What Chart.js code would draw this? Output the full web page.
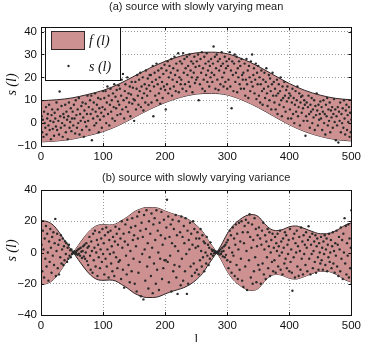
<!DOCTYPE html>
<html>
<head>
<meta charset="utf-8">
<script src="https://cdn.jsdelivr.net/npm/chart.js@4.4.0/dist/chart.umd.min.js"></script>
<style>
  html, body { margin: 0; padding: 0; background: #fff; }
  canvas { display: block; }
</style>
</head>
<body>
<canvas id="chartA" width="365" height="171"></canvas>
<canvas id="chartB" width="365" height="171"></canvas>
<script>
// band f(l), panel (a): slowly varying mean
var bandXA = [0,25,50,75,100,125,150,175,200,225,250,275,300,325,350,375,400,425,450,475,500];
var upperA = [9.8,10.2,11,12.5,14.3,17,20.5,24,27,29.3,30.7,31,30.3,28,24.8,21,17.3,14.3,12.2,10.8,10.2];
var lowerA = [-8.2,-7.8,-7,-5.5,-3.7,-1,2.5,6,9,11.3,12.7,13,12.3,10,6.8,3,-0.7,-3.7,-5.8,-7.2,-7.8];

// band f(l), panel (b): slowly varying variance (edges cross at the pinches)
var bandXB = [0,10,20,30,40,52,60,70,80,90,100,110,120,130,140,150,160,170,180,190,200,210,220,230,240,250,260,270,283,290,300,310,320,330,340,350,360,370,380,390,400,410,420,430,440,450,460,470,480,490,500];
var upperB = [20.5,19.8,17.4,12.5,6.5,0,-4.5,-10,-14.5,-17.2,-17.8,-17.6,-18.2,-20.5,-23,-26,-27.8,-28.8,-28.8,-28.2,-26.5,-25,-23.8,-22.5,-20.5,-17.5,-13.5,-7.5,0,4.5,12,17.5,21,23.5,24.3,23,18.5,15,14,14.8,16.5,17,16,14.5,13,12,12,13,15,17.5,19];
var lowerB = [-20.5,-19.8,-17.4,-12.5,-6.5,0,4.5,10,14.5,17.2,17.8,17.6,18.2,20.5,23,26,27.8,28.8,28.8,28.2,26.5,25,23.8,22.5,20.5,17.5,13.5,7.5,0,-4.5,-12,-17.5,-21,-23.5,-24.3,-23,-18.5,-15,-14,-14.8,-16.5,-17,-16,-14.5,-13,-12,-12,-13,-15,-17.5,-19];

// samples s(l), l = 1..500
var sampleA = [
  3,-4,1.5,-6,5,0,-2,7,-5,2,4,-1,8,-3,1,-7,3.5,6,-2.5,0.5,-5.5,4.5,2,-1.5,9,
  -3,6,1,-5,13.8,3,-2,7.5,0,-6,4,2.5,-1,8,-4,5,1.5,-7,3,9,-2,0.5,6.5,-3.5,2,
  5,-1,8,2,-4.5,10,3.5,-2,6,0,11,-5,4,1,7.5,-3,9,2.5,-6,5.5,0.5,8.5,-1.5,4,12,
  1,7,-3,10,4,12,-7.5,6,2,9,-1,13,5,0,8,3,11,-4,6.5,1.5,10.5,4.5,-2,7,14,
  3,11,6,14,0,9,16,4,12,-1,8,15,5,10,2,13,7,17,1,11.5,6.5,14.5,3.5,9.5,16.5,
  8,15,4,12,19,6,21.5,10,2,14,17,7,11,20,5,13,9,16,3,12.5,18,8.5,15.5,10.5,1,
  10,18,6,15,21,12,8,19,14,22,7,16,11,20,5.5,13,17,9,23,15,12,19.5,8,16.5,21,
  14,21,9,18,25,3,16,22,12,19,26,10,17,23,13,20,8.5,15,24,18,11,21.5,16,25.5,14.5,
  6,23,17,27,13,20,25,15,22,28,12,19,24,16,29,21,14,26,18,23,30.5,13.5,20,27,17,
  19,26,15,30.6,22,28,17,24,14,29,21,25,18,30,16,23,27,20,13.5,26,22,29,17.5,24.5,19,
  27,20,30,10,25,17,28,22,31,15,24,19,29,14,26,21,30.5,18,23,27,16,25,20,28,22,
  18,26,33.5,21,29,15,24,30,19,27,14.5,23,28,17,25,31,20,26,16,22,29,18,24,27,15,
  25,19,28,31,16,23,6.5,27,21,14,26,30,18,22,29,13.5,24,20,27,17,25,15,28,21,19,
  22,15,26,12,19,28,17,23,11,25,20,14,27,18,30,16,21,24,13,19,26,10.5,22,17,25,
  12,20,9,17,23,14,8,19,15,22,11,18,24,13,7.5,16,21,10,19.5,14,6,17,22,12,18,
  9,15,6,12,19,4,13,17,8,14,20,10,3,16,11,7,18,12,5,14.5,9.5,16,2,11,13,
  6,12,2,9,15,4,11,0,8,14,5,10,16,3,7,13,-1,9,11.5,4.5,12,6.5,1,10,8,
  -5.5,3,9,1,7,12,4,-2,8,5,11,0,6,2.5,10,-3,7.5,3.5,13,5.5,-1,8,1.5,4,9.5,
  2,7,-3,5,10,0,4,-5,8,3,11,-1,6,1,9,-4,5.5,2.5,7,-2,4,10.5,0.5,6,-7.5,
  3,-1,7,-8.5,5,1,9,-4,4,0,6.5,-2,10,2,-5,5.5,8,-3,3.5,0.5,7,-6,4.5,-4,1.5
];
var sampleB = [
  5,-12,14,2,-16,9,-4,17,-9,12,0,-18,7,-6,15,3,-13,10,-2,13,-8,6,21.5,-15,1,
  12,-10,5,-14,8,-3,11,-7,2,9,-8,4,-5,7,-1,6,-6,3,-4,5,-2,1.5,-3,2,-1,
  0.5,-0.5,0,0.8,-0.3,0.2,-1,1.2,-1.5,2,-0.8,2.5,-2,3,0.5,-3.5,1,4,-2.5,5,-4,0,6,-5.5,3,
  -8,4,10,-2,-11,7,1,-13,12,-5,3,14,-9,0,8,-15,5,-3,13,-10,2,9,-6,15,-1,
  6,-14,11,-4,16,-9,2,13,-16,8,-1,14,-7,4,-12,10,0,-15,7,16.5,-3,12,-10,5,-6,
  15,-5,9,-17,20,3,-11,12,-22.5,7,18,-2,-14,21,5,-8,13,-19,1,16,-12,22,8,-4,11,
  -20,17,4,-25,23,9,-13,26,-6,14,-28,19,-1,10,-30,24,2,-18,15,27,-9,6,-23,20,-3,
  12,-15,25,3,-26,18,-7,22,8,-20,27,-11,14,0,-24,19,-4,11,26,-17,5,-10,21,-5,9,
  -5,16,33.8,-6,23,-19,10,-2,18,-25,6,21,-12,15,-8,4,24,-16,11,-26.5,1,20,-9,13,-21,
  23,-4,10,-18,17,6,-12,22,-1,-26.5,14,-20,8,2,19,-9,12,-15,5,20,-7,15,-13,3,9,
  -11,13,4,-14,9,-5,15,1,-9,11,-3,7,-12,6,0,-7,10,-2,5,-8,3,-4,6.5,-1,2,
  1,-2,1.5,-0.5,0.8,0,-0.3,0.5,0,-0.6,0.4,1,-1.2,2,-1,0.5,3,-2.5,1,4,-3,5,-1.5,6.5,-5,
  8,-10,3,14,-6,11,-13,0,16,-2,9,-15,5,18,-8,12,-17,2,19,-11,7,-4,20,-18,13,
  -22,6,17,-9,21,1,-24,13,19,-5,24.5,10,-16,3,18,-20,8,-12,22,-3,15,-19,4,11,-8,
  16,-11,9,-20,5,14,-7,19,-14,2,11,-17,7,-3,15,-10,4,13,-15,0,8,-6,12,-12,3,
  -5,10,-13,6,1,12,-9,4,-2,14,-11,7,0,-14,9,3,-7,13,-4,11,-10,5,-1,8,-12,
  15,-6,2,-13,-24.5,9,-3,12,-16,6,0,14,-9,4,-15,10,1,-11,16,-4,7,-14,11,-1,5,
  -8,13,3,-12,8,16.8,-4,10,-14,5,-1,12,-10,1,7,-6,11,-13,4,9,-3,-11,6,0,-7,
  10,-5,3,-11,7,-1,11,-8,2,9,-12,5,-3,12,-6,0,8,-10,4,13,-7,1,-13,6,-2,
  14,-9,5,-15,10,2,-12,16,-4,8,-17,12,0,22,-7,17,-14,6,-2,18,-16,9,-10,3,27
];

var xTicks = [0,100,200,300,400,500];
var yTicksA = [-10,0,10,20,30,40];
var yTicksB = [-40,-20,0,20,40];

var bandFill = 'rgb(205,145,145)';
var edgeColor = '#332626';
var dotColor = '#2a2a2a';
var tickFont = { family: '"Liberation Sans", Arial, sans-serif', size: 11.5 };

function fmt(v) {
  return v < 0 ? '\u2212' + Math.abs(v) : '' + v;
}

function pts(xs, ys) {
  return ys.map(function(v, i) { return { x: xs[i], y: v }; });
}

function sampleIdx(arr) {
  return arr.map(function(v, i) { return i + 1; });
}

// box, inner ticks, titles, axis labels and legend in MATLAB style
var decor = {
  id: 'decor',
  afterDatasetsDraw: function(chart, args, opts) {
    var ctx = chart.ctx, a = chart.chartArea;
    var xs = chart.scales.x, ys = chart.scales.y;
    ctx.save();
    ctx.strokeStyle = '#111';
    ctx.lineWidth = 1;
    ctx.beginPath();
    xs.ticks.forEach(function(t) {
      var px = Math.round(xs.getPixelForValue(t.value)) + 0.5;
      ctx.moveTo(px, a.bottom); ctx.lineTo(px, a.bottom - 3);
      ctx.moveTo(px, a.top); ctx.lineTo(px, a.top + 3);
    });
    ys.ticks.forEach(function(t) {
      var py = Math.round(ys.getPixelForValue(t.value)) + 0.5;
      ctx.moveTo(a.left, py); ctx.lineTo(a.left + 3, py);
      ctx.moveTo(a.right, py); ctx.lineTo(a.right - 3, py);
    });
    ctx.stroke();
    ctx.strokeRect(Math.round(a.left) + 0.5, Math.round(a.top) + 0.5,
      Math.round(a.right - a.left), Math.round(a.bottom - a.top));

    ctx.fillStyle = '#222';
    ctx.font = '11px "Liberation Sans", Arial, sans-serif';
    ctx.textAlign = 'center';
    ctx.textBaseline = 'middle';
    ctx.fillText(opts.title, (a.left + a.right) / 2, 7);

    if (opts.xlabel) {
      ctx.fillStyle = '#111';
      ctx.font = '13px "Liberation Serif", serif';
      ctx.textBaseline = 'alphabetic';
      ctx.fillText(opts.xlabel, (a.left + a.right) / 2, 172);
    }

    if (opts.legend) {
      var lx = 45.5, ly = 27.5, lw = 75, lh = 53;
      ctx.fillStyle = '#fff';
      ctx.fillRect(lx, ly, lw, lh);
      ctx.strokeStyle = '#111';
      ctx.strokeRect(lx, ly, lw, lh);
      ctx.fillStyle = bandFill;
      ctx.fillRect(51.5, 31.5, 33, 18);
      ctx.strokeStyle = edgeColor;
      ctx.strokeRect(51.5, 31.5, 33, 18);
      ctx.fillStyle = dotColor;
      ctx.beginPath();
      ctx.arc(68.5, 66, 1.2, 0, Math.PI * 2);
      ctx.fill();
      ctx.fillStyle = '#111';
      ctx.font = 'italic 14px "Liberation Serif", serif';
      ctx.textAlign = 'left';
      ctx.textBaseline = 'middle';
      ctx.fillText('f (l)', 89, 41);
      ctx.fillText('s (l)', 89, 67);
    }

    ctx.fillStyle = '#111';
    ctx.font = 'italic 14px "Liberation Serif", serif';
    ctx.textAlign = 'center';
    ctx.textBaseline = 'middle';
    ctx.translate(12, (a.top + a.bottom) / 2 - 2);
    ctx.rotate(-Math.PI / 2);
    ctx.fillText('s (l)', 0, 0);
    ctx.restore();
  }
};

function makeChart(id, bandX, upper, lower, samples, yTicks, yMin, yMax, pad, xHeight, decorOpts) {
  return new Chart(document.getElementById(id).getContext('2d'), {
    type: 'line',
    data: {
      datasets: [{
        data: pts(sampleIdx(samples), samples),
        order: 0,
        showLine: false,
        pointRadius: 1.2,
        pointBorderWidth: 0,
        pointBackgroundColor: dotColor
      }, {
        data: pts(bandX, upper),
        order: 1,
        borderColor: edgeColor,
        borderWidth: 1,
        backgroundColor: bandFill,
        fill: '+1',
        pointRadius: 0,
        cubicInterpolationMode: 'monotone'
      }, {
        data: pts(bandX, lower),
        order: 2,
        borderColor: edgeColor,
        borderWidth: 1,
        fill: false,
        pointRadius: 0,
        cubicInterpolationMode: 'monotone'
      }]
    },
    options: {
      responsive: false,
      animation: false,
      devicePixelRatio: 1,
      layout: { padding: pad },
      plugins: {
        legend: { display: false },
        tooltip: { enabled: false },
        decor: decorOpts
      },
      scales: {
        x: {
          type: 'linear',
          min: 0,
          max: 500,
          afterBuildTicks: function(s) { s.ticks = xTicks.map(function(v) { return { value: v }; }); },
          afterFit: function(s) { s.height = xHeight; },
          grid: { color: '#9a9a9a', drawTicks: false },
          border: { display: false, dash: [1, 2] },
          ticks: { padding: 4, color: '#111', font: tickFont, autoSkip: false, maxRotation: 0, callback: fmt }
        },
        y: {
          type: 'linear',
          min: yMin,
          max: yMax,
          afterBuildTicks: function(s) { s.ticks = yTicks.map(function(v) { return { value: v }; }); },
          afterFit: function(s) { s.width = 41; },
          grid: { color: '#9a9a9a', drawTicks: false },
          border: { display: false, dash: [1, 2] },
          ticks: { padding: 4, color: '#111', font: tickFont, autoSkip: false, callback: fmt }
        }
      }
    },
    plugins: [decor]
  });
}

window.onload = function() {
  makeChart('chartA', bandXA, upperA, lowerA, sampleA, yTicksA, -10, 42,
    { left: 0, right: 11, top: 27, bottom: 0 }, 25,
    { title: '(a) source with slowly varying mean', legend: true });
  makeChart('chartB', bandXB, upperB, lowerB, sampleB, yTicksB, -40, 40,
    { left: 0, right: 11, top: 19, bottom: 0 }, 27,
    { title: '(b) source with slowly varying variance', xlabel: 'l' });
};
</script>
</body>
</html>
